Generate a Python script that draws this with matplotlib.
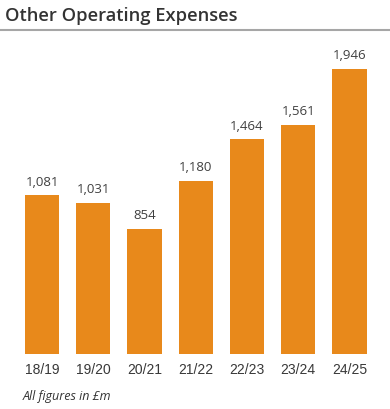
import matplotlib
matplotlib.use("Agg")
import matplotlib.pyplot as plt
from matplotlib.lines import Line2D

categories = ["18/19", "19/20", "20/21", "21/22", "22/23", "23/24", "24/25"]
values = [1081, 1031, 854, 1180, 1464, 1561, 1946]
title = "Other Operating Expenses"
footnote = "All figures in £m"

W, H = 390, 410
fig = plt.figure(figsize=(W / 100, H / 100), dpi=100)

def fx(px):
    return px / W

def fy(py):
    return 1 - py / H

ax_left, ax_right = 16.4, 375.0
ax_top, ax_bottom = 40.0, 355.0
ax = fig.add_axes([fx(ax_left), fy(ax_bottom), fx(ax_right - ax_left), (ax_bottom - ax_top) / H])

color = "#E8891B"
x = list(range(len(categories)))
bars = ax.bar(x, values, width=0.67, color=color)
ax.set_xlim(-0.5, len(categories) - 0.5)
ax.set_ylim(0, (ax_bottom - ax_top) / 0.1467)

for xi, v in zip(x, values):
    ax.annotate(f"{v:,}", (xi, v), xytext=(0, 5.5), textcoords="offset points",
                ha="center", va="bottom", fontsize=9.5, color="#404040",
                family="Open Sans")

ax.set_xticks(x)
ax.set_xticklabels(categories, fontsize=10, color="#383838", family="Liberation Sans")
ax.tick_params(axis="x", length=0, pad=5.5)
ax.set_yticks([])
for s in ax.spines.values():
    s.set_visible(False)

fig.text(fx(5), fy(16), title, fontsize=13.2, fontweight="semibold", color="#333333",
         family="Open Sans", ha="left", va="center")
fig.add_artist(Line2D([0, 1], [fy(31), fy(31)], color="#a6a6a6", linewidth=1.5,
                      transform=fig.transFigure))
fig.text(fx(23), fy(397), footnote, fontsize=9, style="italic", color="#333333",
         family="Open Sans", ha="left", va="center")

fig.savefig("out.png", dpi=100)
